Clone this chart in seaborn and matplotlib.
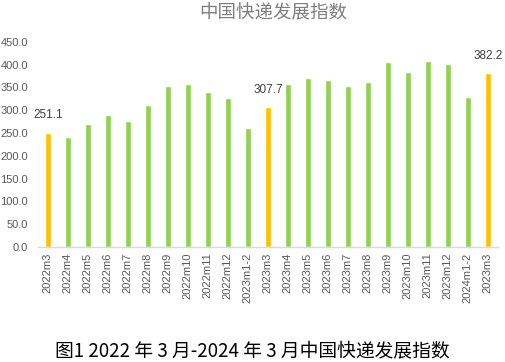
import matplotlib
matplotlib.use("Agg")
import matplotlib.pyplot as plt
import seaborn as sns
import pandas as pd

categories = ["2022m3", "2022m4", "2022m5", "2022m6", "2022m7", "2022m8", "2022m9",
              "2022m10", "2022m11", "2022m12", "2023m1-2", "2023m3", "2023m4", "2023m5",
              "2023m6", "2023m7", "2023m8", "2023m9", "2023m10", "2023m11", "2023m12",
              "2024m1-2", "2023m3"]
values = [251.1, 241.5, 270.0, 290.0, 277.0, 312.0, 354.0, 358.0, 341.0, 327.0, 262.0,
          307.7, 358.0, 371.0, 367.0, 354.0, 363.0, 407.0, 385.0, 409.0, 402.0, 330.0, 382.2]
highlight = [True, False, False, False, False, False, False, False, False, False, False,
             True, False, False, False, False, False, False, False, False, False, False, True]
yticks = [0, 50, 100, 150, 200, 250, 300, 350, 400, 450]

sns.set_theme(style="white")
plt.rcParams["font.family"] = ["Noto Sans CJK SC", "DejaVu Sans"]

df = pd.DataFrame({
    "pos": list(range(len(categories))),
    "value": values,
    "kind": ["hl" if h else "normal" for h in highlight],
})

fig = plt.figure(figsize=(5.05, 3.62), dpi=100)
ax = fig.add_axes([0.075, 0.3177, 0.911, 0.5665])
sns.barplot(data=df, x="pos", y="value", hue="kind",
            palette={"hl": "#FFC000", "normal": "#92D050"},
            dodge=False, width=0.3, legend=False, ax=ax, saturation=1)

ax.set_ylim(0, 450)
ax.set_xlim(-0.5, len(categories) - 0.5)
ax.set_yticks(yticks)
ax.set_yticklabels([f"{v:.1f}" for v in yticks], fontsize=8, color="#595959",
                   family=["Liberation Sans", "DejaVu Sans"])
ax.set_xticks(range(len(categories)))
ax.set_xticklabels(categories, rotation=90, fontsize=8, color="#595959",
                   family=["Liberation Sans", "DejaVu Sans"])
ax.tick_params(axis="x", length=0, pad=4)
ax.tick_params(axis="y", length=0, pad=7)
ax.set_xlabel("")
ax.set_ylabel("")
for s in ["top", "right", "left"]:
    ax.spines[s].set_visible(False)
ax.spines["bottom"].set_color("#D9D9D9")
ax.spines["bottom"].set_linewidth(1)

for i, (v, h) in enumerate(zip(values, highlight)):
    if h:
        ax.annotate(f"{v:.1f}", (i, v), xytext=(0, 8), textcoords="offset points",
                    ha="center", va="bottom", fontsize=8.5, color="#404040",
                    family=["Liberation Sans", "DejaVu Sans"])

fig.text(0.541, 0.963, "中国快递发展指数", ha="center", va="center",
         fontsize=13.3, color="#7F7F7F", fontweight="light")
fig.text(0.5, 0.03, "图1 2022 年 3 月-2024 年 3 月中国快递发展指数", ha="center",
         va="center", fontsize=13.5, color="black", fontweight="medium")

fig.savefig("out.png", dpi=100)
